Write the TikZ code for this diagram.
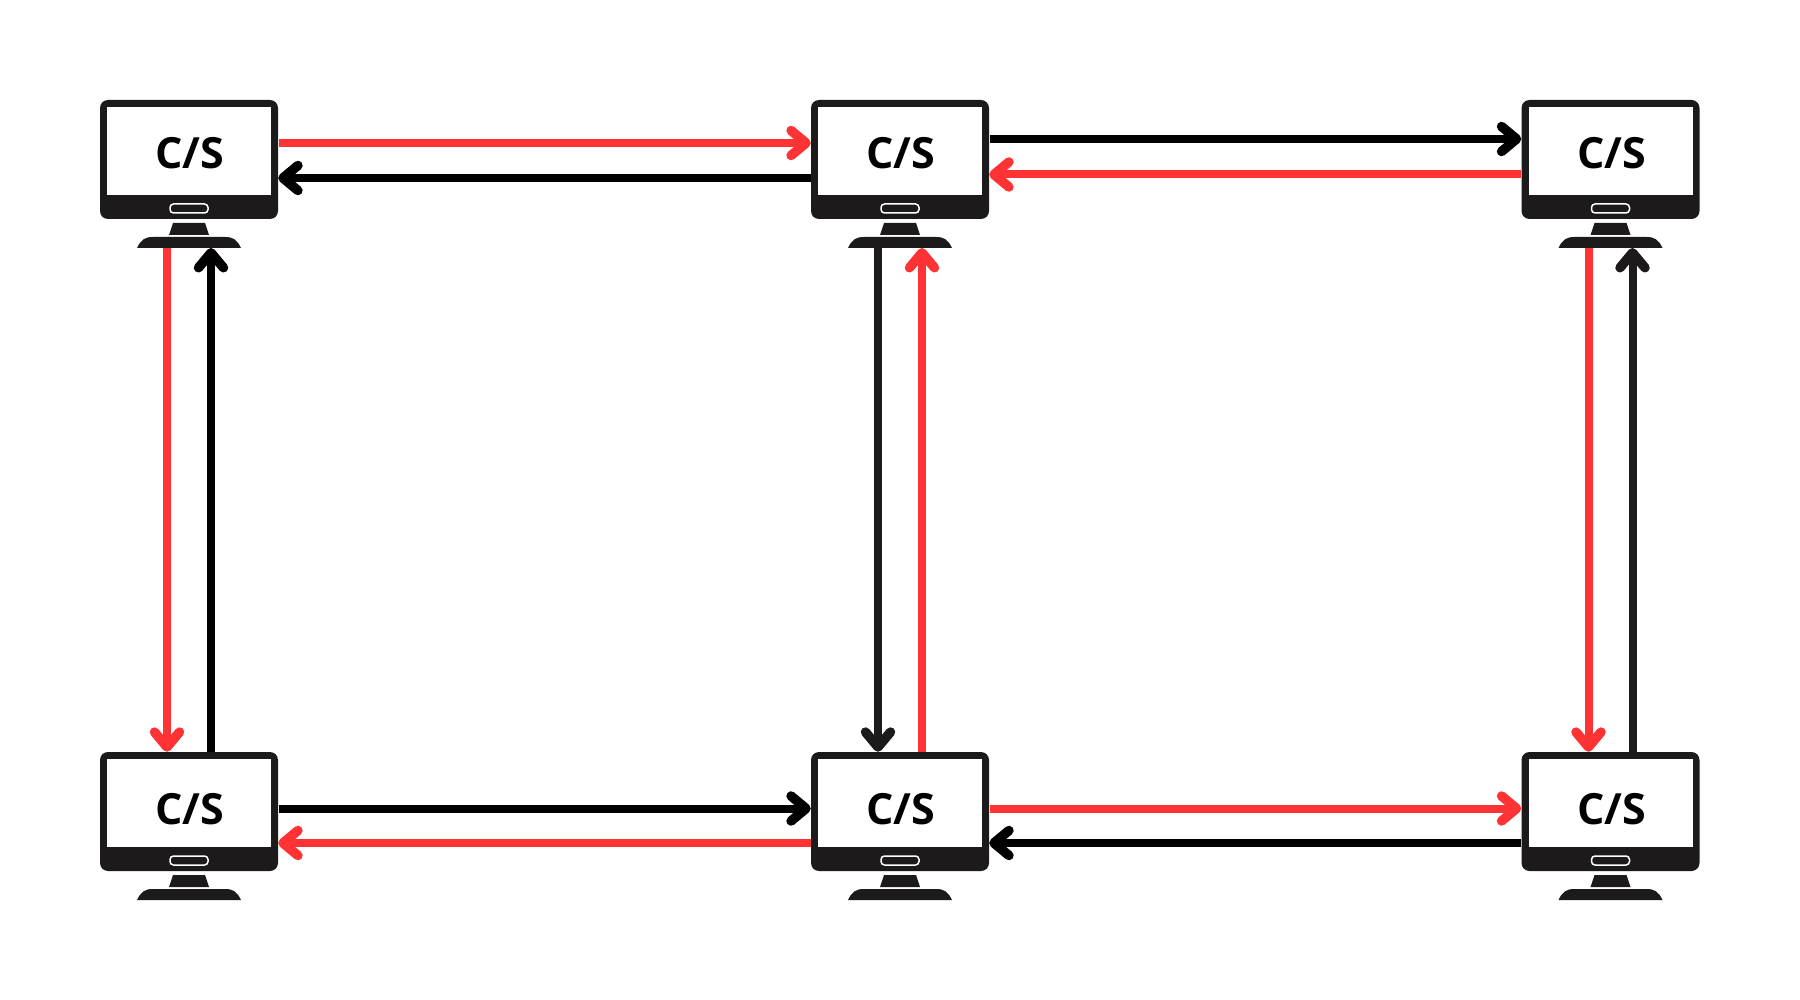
\documentclass[tikz,border=0pt]{standalone}
\usepackage{fontspec}
\setmainfont{Open Sans}
\usepackage{xcolor}
\usetikzlibrary{arrows.meta}
\definecolor{monblack}{HTML}{1C1A1B}
\definecolor{linkred}{HTML}{FF3333}
\tikzset{
	link/.style={line width=8pt, -{Straight Barb[length=15pt,width=25pt,line width=9.5pt,round]}},
	redlink/.style={link, linkred},
	blacklink/.style={link, black},
	darklink/.style={link, monblack},
	monbox/.style={rectangle, inner sep=0pt, minimum width=178pt, minimum height=119pt},
	monitor/.pic={
		\fill[monblack, rounded corners=8pt] (-89,-59.5) rectangle (89,59.5);
		\fill[white] (-82,-52.5) rectangle (82,35.5);
		\draw[white, line width=1.5pt, rounded corners=3.5pt] (-19,44.5) rectangle (19,53.5);
		\fill[monblack] (-16,63.5) -- (16,63.5) -- (20,75.5) -- (-20,75.5) -- cycle;
		\fill[monblack] (-52,88.5) .. controls (-48,80) and (-44,77.5) .. (-36,77.5) -- (36,77.5) .. controls (44,77.5) and (48,80) .. (52,88.5) -- cycle;
		\node (box) [monbox] at (0,0) {};
		\coordinate (foot) at (0,88.5);
	}
}
\begin{document}
\begin{tikzpicture}[x=1pt, y=-1pt]
		\useasboundingbox (0,0) rectangle (1800,1000);
		\foreach \name/\x/\y/\dy in {tl/189/159.5/-6, tc/900/159.5/-6, tr/1610.5/159.5/-6, bl/189/811.5/-2, bc/900/811.5/-2, br/1610.5/811.5/-2} {
			\pic (\name) at (\x,\y) {monitor};
			\node (\name label) at (\x+1,\y+\dy) {\fontsize{43}{43}\bfseries C/S};
		}
		% top row
		\draw[redlink] ([xshift=.5pt,yshift=16.5pt]tlbox.east) -- ([yshift=16.5pt]tcbox.west);
		\draw[blacklink] ([yshift=-18.5pt]tcbox.west) -- ([yshift=-18.5pt]tlbox.east);
		\draw[blacklink] ([xshift=.5pt,yshift=20.5pt]tcbox.east) -- ([yshift=20.5pt]trbox.west);
		\draw[redlink] ([yshift=-15pt]trbox.west) -- ([yshift=-15pt]tcbox.east);
		% bottom row
		\draw[blacklink] ([xshift=.5pt,yshift=3pt]blbox.east) -- ([yshift=3pt]bcbox.west);
		\draw[redlink] ([yshift=-31.5pt]bcbox.west) -- ([yshift=-31.5pt]blbox.east);
		\draw[redlink] ([xshift=.5pt,yshift=3pt]bcbox.east) -- ([yshift=3pt]brbox.west);
		\draw[blacklink] ([yshift=-31.5pt]brbox.west) -- ([yshift=-31.5pt]bcbox.east);
		% columns
		\draw[redlink] ([xshift=-22pt]tlfoot) -- ([xshift=-22pt]blbox.north);
		\draw[blacklink] ([xshift=22pt]blbox.north) -- ([xshift=22pt]tlfoot);
		\draw[darklink] ([xshift=-22pt]tcfoot) -- ([xshift=-22pt]bcbox.north);
		\draw[redlink] ([xshift=22pt]bcbox.north) -- ([xshift=22pt]tcfoot);
		\draw[redlink] ([xshift=-22pt]trfoot) -- ([xshift=-22pt]brbox.north);
		\draw[darklink] ([xshift=22pt]brbox.north) -- ([xshift=22pt]trfoot);
	\end{tikzpicture}
\end{document}
